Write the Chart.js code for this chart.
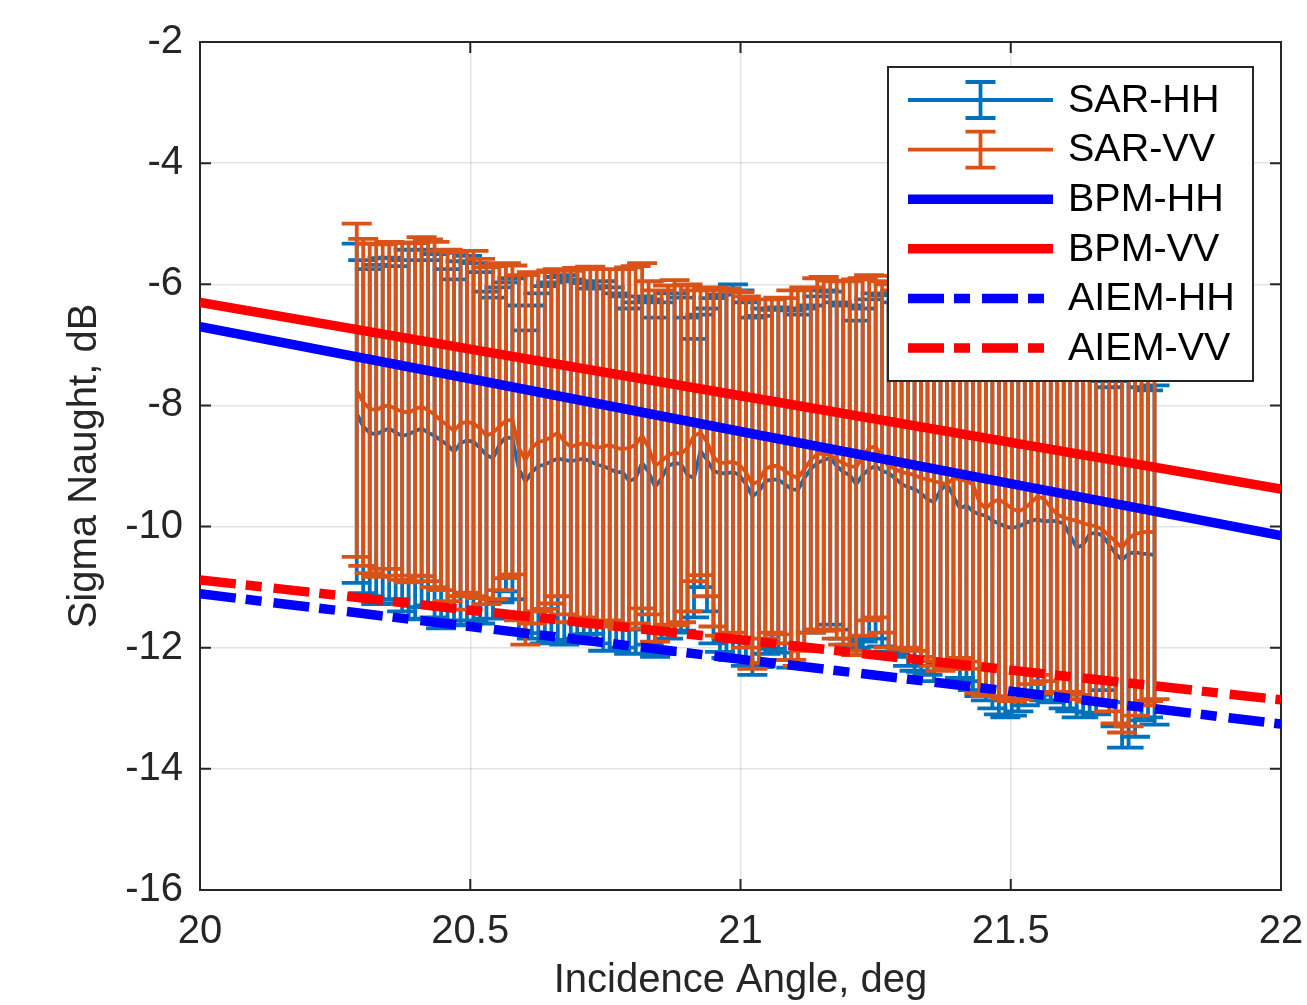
<!DOCTYPE html>
<html>
<head>
<meta charset="utf-8">
<title>Sigma Naught vs Incidence Angle</title>
<script src="https://cdn.jsdelivr.net/npm/chart.js@4.4.0/dist/chart.umd.min.js"></script>
<style>
  html, body { margin: 0; padding: 0; background: #fff; }
  #wrap { width: 1307px; height: 1005px; position: relative; }
</style>
</head>
<body>
<div id="wrap"><canvas id="chart"></canvas></div>
<script>
"use strict";

// SAR incidence angles (deg)
const angles = [
  20.290, 20.302, 20.314, 20.326, 20.338, 20.350, 20.362, 20.374, 20.386, 20.398,
  20.410, 20.422, 20.434, 20.446, 20.458, 20.470, 20.482, 20.494, 20.506, 20.518,
  20.530, 20.542, 20.554, 20.566, 20.578, 20.590, 20.602, 20.614, 20.626, 20.638,
  20.650, 20.662, 20.674, 20.686, 20.698, 20.710, 20.722, 20.734, 20.746, 20.758,
  20.770, 20.782, 20.794, 20.806, 20.818, 20.830, 20.842, 20.854, 20.866, 20.878,
  20.890, 20.902, 20.914, 20.926, 20.938, 20.950, 20.962, 20.974, 20.986, 20.998,
  21.010, 21.022, 21.034, 21.046, 21.058, 21.070, 21.082, 21.094, 21.106, 21.118,
  21.130, 21.142, 21.154, 21.166, 21.178, 21.190, 21.202, 21.214, 21.226, 21.238,
  21.250, 21.262, 21.274, 21.286, 21.298, 21.310, 21.322, 21.334, 21.346, 21.358,
  21.370, 21.382, 21.394, 21.406, 21.418, 21.430, 21.442, 21.454, 21.466, 21.478,
  21.490, 21.502, 21.514, 21.526, 21.538, 21.550, 21.562, 21.574, 21.586, 21.598,
  21.610, 21.622, 21.634, 21.646, 21.658, 21.670, 21.682, 21.694, 21.706, 21.718,
  21.730, 21.742, 21.754, 21.766
];

// SAR HH mean and std (dB)
const hhMean = [
  -8.13, -8.35, -8.45, -8.48, -8.42, -8.38, -8.45, -8.50, -8.48, -8.42,
  -8.38, -8.45, -8.50, -8.58, -8.65, -8.77, -8.62, -8.58, -8.60, -8.70,
  -8.82, -8.87, -8.65, -8.52, -8.55, -9.05, -9.26, -9.10, -9.00, -8.98,
  -8.92, -8.88, -8.90, -8.92, -8.90, -8.88, -8.92, -8.98, -9.00, -9.05,
  -9.10, -9.10, -9.25, -9.20, -8.95, -9.10, -9.35, -9.20, -9.00, -8.95,
  -8.97, -9.15, -9.20, -8.75, -8.90, -9.08, -9.12, -9.12, -9.10, -9.15,
  -9.30, -9.50, -9.42, -9.25, -9.22, -9.23, -9.30, -9.38, -9.40, -9.20,
  -9.05, -8.95, -8.90, -8.87, -9.00, -9.10, -9.15, -9.30, -9.15, -9.05,
  -9.00, -9.08, -9.12, -9.20, -9.30, -9.35, -9.38, -9.45, -9.55, -9.60,
  -9.40, -9.30, -9.50, -9.70, -9.65, -9.75, -9.80, -9.82, -9.90, -9.95,
  -10.00, -10.02, -10.00, -9.95, -9.90, -9.88, -9.92, -9.90, -9.92, -9.95,
  -10.15, -10.35, -10.30, -10.12, -10.10, -10.15, -10.30, -10.45, -10.55, -10.45,
  -10.42, -10.45, -10.45, -10.47
];
const hhErr = [
  2.80, 2.75, 2.70, 2.80, 2.85, 2.82, 2.75, 2.90, 3.05, 3.10,
  2.95, 2.85, 3.00, 3.10, 2.90, 2.85, 3.00, 3.05, 2.95, 2.90,
  2.70, 2.65, 2.60, 2.55, 2.65, 2.70, 2.50, 2.75, 2.85, 2.95,
  2.95, 3.00, 3.05, 3.00, 2.95, 2.90, 2.85, 2.95, 3.05, 3.00,
  2.95, 2.90, 2.85, 2.90, 2.75, 2.85, 2.80, 2.90, 2.85, 2.80,
  2.75, 2.60, 2.30, 2.25, 2.50, 2.85, 2.95, 3.05, 3.10, 3.05,
  3.00, 2.95, 2.90, 2.85, 2.80, 2.85, 2.90, 2.95, 2.90, 2.80,
  2.70, 2.75, 2.80, 2.75, 2.70, 2.75, 2.80, 2.70, 2.75, 2.80,
  2.85, 2.90, 2.95, 2.90, 2.85, 2.95, 3.00, 2.95, 2.90, 2.95,
  2.85, 2.90, 2.85, 2.80, 2.90, 2.95, 3.00, 3.05, 3.10, 3.15,
  3.15, 3.10, 3.05, 3.00, 2.95, 2.90, 2.95, 3.00, 2.95, 3.05,
  2.90, 2.80, 2.85, 2.95, 3.00, 2.55, 2.60, 2.85, 3.10, 3.20,
  3.05, 2.75, 2.70, 2.80
];

// SAR VV mean and std (dB)
const vvMean = [
  -7.75, -7.95, -8.05, -8.08, -8.02, -8.00, -8.06, -8.10, -8.12, -8.06,
  -8.02, -8.08, -8.15, -8.25, -8.33, -8.42, -8.30, -8.27, -8.30, -8.38,
  -8.50, -8.45, -8.35, -8.25, -8.24, -8.70, -8.90, -8.70, -8.60, -8.58,
  -8.52, -8.45, -8.60, -8.68, -8.65, -8.62, -8.66, -8.70, -8.68, -8.65,
  -8.70, -8.72, -8.70, -8.65, -8.50, -8.70, -9.00, -8.92, -8.82, -8.78,
  -8.80, -8.70, -8.50, -8.45, -8.60, -8.85, -8.95, -8.95, -8.93, -8.98,
  -9.10, -9.30, -9.25, -9.05, -9.00, -9.00, -9.08, -9.15, -9.20, -9.05,
  -8.90, -8.80, -8.80, -8.82, -8.90, -8.95, -9.00, -9.02, -8.85, -8.70,
  -8.68, -8.85, -9.00, -9.05, -9.10, -9.12, -9.15, -9.20, -9.22, -9.25,
  -9.28, -9.30, -9.20, -9.22, -9.25, -9.30, -9.60, -9.70, -9.60, -9.55,
  -9.62, -9.70, -9.75, -9.70, -9.60, -9.50, -9.55, -9.68, -9.80, -9.85,
  -9.88, -9.90, -9.95, -9.97, -10.00, -10.05, -10.15, -10.25, -10.35, -10.20,
  -10.12, -10.10, -10.08, -10.10
];
const vvErr = [
  2.75, 2.70, 2.72, 2.75, 2.68, 2.70, 2.75, 2.78, 2.80, 2.75,
  2.80, 2.82, 2.85, 2.80, 2.90, 2.95, 2.85, 2.82, 2.85, 2.80,
  2.78, 2.75, 2.70, 2.60, 2.55, 2.85, 3.05, 2.90, 2.80, 2.78,
  2.75, 2.70, 2.85, 2.90, 2.92, 2.88, 2.95, 2.95, 2.93, 2.90,
  2.95, 2.97, 2.98, 2.95, 2.85, 2.75, 2.90, 2.82, 2.80, 2.85,
  2.78, 2.70, 2.40, 2.35, 2.55, 2.80, 2.85, 2.88, 2.82, 2.85,
  2.90, 3.05, 3.00, 2.80, 2.75, 2.78, 2.85, 3.05, 3.10, 3.00,
  2.85, 2.90, 2.92, 2.88, 2.95, 3.00, 3.05, 3.10, 2.95, 2.85,
  2.82, 2.90, 3.00, 2.95, 2.92, 2.88, 2.90, 2.95, 3.00, 3.05,
  3.10, 3.05, 3.00, 2.95, 2.98, 3.05, 3.15, 3.10, 3.20, 3.25,
  3.22, 3.18, 3.10, 3.05, 3.00, 2.95, 3.00, 3.05, 2.95, 2.90,
  2.85, 2.88, 2.90, 2.92, 2.88, 2.85, 2.90, 3.00, 3.05, 3.10,
  3.00, 2.85, 2.80, 2.75
];

// model curves
const modelAngles = [20, 20.5, 21, 21.5, 22];
const bpmHH = [-6.70, -7.56, -8.43, -9.29, -10.15];
const bpmVV = [-6.30, -7.07, -7.84, -8.61, -9.38];
const aiemHH = [-11.11, -11.65, -12.19, -12.72, -13.26];
const aiemVV = [-10.88, -11.38, -11.87, -12.37, -12.86];

const xTicks = [20, 20.5, 21, 21.5, 22];
const yTicks = [-16, -14, -12, -10, -8, -6, -4, -2];

const AXIS_COLOR = "#262626";
const FONT = "'Liberation Sans', Arial, Helvetica, sans-serif";
const DASH_DOT = [36, 10, 16, 12];
const CAP_HALF = 15;

Chart.defaults.font.family = FONT;

function pts(xs, ys) {
  return xs.map((x, i) => ({ x: x, y: ys[i] }));
}

// vertical error bars with caps, drawn right under each SAR line
const errorBarPlugin = {
  id: "errorBars",
  beforeDatasetDraw(chart, args) {
    const ds = chart.data.datasets[args.index];
    if (!ds.errorBars) return;
    const { ctx, chartArea, scales } = chart;
    const x = scales.x, y = scales.y;
    ctx.save();
    ctx.beginPath();
    ctx.rect(chartArea.left, chartArea.top, chartArea.width, chartArea.height);
    ctx.clip();
    ctx.strokeStyle = ds.borderColor;
    ctx.lineWidth = ds.borderWidth;
    ctx.lineCap = "butt";
    ctx.beginPath();
    ds.data.forEach((p, i) => {
      const e = ds.errorBars[i];
      const px = x.getPixelForValue(p.x);
      const top = y.getPixelForValue(p.y + e);
      const bot = y.getPixelForValue(p.y - e);
      ctx.moveTo(px, top); ctx.lineTo(px, bot);
      ctx.moveTo(px - CAP_HALF, top); ctx.lineTo(px + CAP_HALF, top);
      ctx.moveTo(px - CAP_HALF, bot); ctx.lineTo(px + CAP_HALF, bot);
    });
    ctx.stroke();
    ctx.restore();
  }
};

// box around the axes with inward tick marks on all four sides
const axesBoxPlugin = {
  id: "axesBox",
  beforeDatasetsDraw(chart) {
    const { ctx, chartArea: a, scales } = chart;
    const tl = 11;
    ctx.save();
    ctx.strokeStyle = AXIS_COLOR;
    ctx.lineWidth = 2;
    ctx.beginPath();
    xTicks.forEach((v) => {
      const px = scales.x.getPixelForValue(v);
      ctx.moveTo(px, a.bottom); ctx.lineTo(px, a.bottom - tl);
      ctx.moveTo(px, a.top); ctx.lineTo(px, a.top + tl);
    });
    yTicks.forEach((v) => {
      const py = scales.y.getPixelForValue(v);
      ctx.moveTo(a.left, py); ctx.lineTo(a.left + tl, py);
      ctx.moveTo(a.right, py); ctx.lineTo(a.right - tl, py);
    });
    ctx.stroke();
    ctx.strokeRect(a.left, a.top, a.right - a.left, a.bottom - a.top);
    ctx.restore();
  }
};

// legend box in the upper right corner of the axes
const boxLegendPlugin = {
  id: "boxLegend",
  afterDraw(chart) {
    const { ctx, chartArea: a } = chart;
    const w = 365, h = 314;
    const left = a.right - 28 - w;
    const top = a.top + 25;
    ctx.save();
    ctx.fillStyle = "#fff";
    ctx.fillRect(left, top, w, h);
    ctx.strokeStyle = AXIS_COLOR;
    ctx.lineWidth = 2;
    ctx.strokeRect(left, top, w, h);

    chart.data.datasets.forEach((ds, i) => {
      const cy = top + 33 + i * 49.6;
      const x0 = left + 20, x1 = left + 165;
      ctx.strokeStyle = ds.borderColor;
      ctx.lineWidth = ds.borderWidth;
      ctx.lineCap = "butt";
      ctx.setLineDash(ds.borderDash || []);
      ctx.beginPath();
      ctx.moveTo(x0, cy); ctx.lineTo(x1, cy);
      ctx.stroke();
      ctx.setLineDash([]);
      if (ds.errorBars) {
        const cx = (x0 + x1) / 2;
        ctx.beginPath();
        ctx.moveTo(cx, cy - 18); ctx.lineTo(cx, cy + 18);
        ctx.moveTo(cx - CAP_HALF, cy - 18); ctx.lineTo(cx + CAP_HALF, cy - 18);
        ctx.moveTo(cx - CAP_HALF, cy + 18); ctx.lineTo(cx + CAP_HALF, cy + 18);
        ctx.stroke();
      }
      ctx.fillStyle = "#000";
      ctx.font = "39.5px " + FONT;
      ctx.textAlign = "left";
      ctx.textBaseline = "middle";
      ctx.fillText(ds.label, left + 180, cy + 1);
    });
    ctx.restore();
  }
};

const lineDefaults = {
  pointRadius: 0,
  pointHoverRadius: 0,
  tension: 0,
  fill: false,
  borderCapStyle: "butt",
  clip: 0
};

const datasets = [
  Object.assign({}, lineDefaults, {
    label: "SAR-HH", data: pts(angles, hhMean), errorBars: hhErr,
    borderColor: "#0072BD", borderWidth: 3.8, order: 6
  }),
  Object.assign({}, lineDefaults, {
    label: "SAR-VV", data: pts(angles, vvMean), errorBars: vvErr,
    borderColor: "#D95319", borderWidth: 3.8, order: 5
  }),
  Object.assign({}, lineDefaults, {
    label: "BPM-HH", data: pts(modelAngles, bpmHH),
    borderColor: "#0000FF", borderWidth: 9.5, order: 4
  }),
  Object.assign({}, lineDefaults, {
    label: "BPM-VV", data: pts(modelAngles, bpmVV),
    borderColor: "#FF0000", borderWidth: 9.5, order: 3
  }),
  Object.assign({}, lineDefaults, {
    label: "AIEM-HH", data: pts(modelAngles, aiemHH),
    borderColor: "#0000FF", borderWidth: 9.5, borderDash: DASH_DOT, order: 2
  }),
  Object.assign({}, lineDefaults, {
    label: "AIEM-VV", data: pts(modelAngles, aiemVV),
    borderColor: "#FF0000", borderWidth: 9.5, borderDash: DASH_DOT, order: 1
  })
];

const chart = new Chart(document.getElementById("chart"), {
  type: "line",
  data: { datasets: datasets },
  plugins: [errorBarPlugin, axesBoxPlugin, boxLegendPlugin],
  options: {
    responsive: true,
    maintainAspectRatio: false,
    animation: false,
    events: [],
    layout: { padding: { left: 0, right: 26, top: 42, bottom: 0 } },
    plugins: {
      legend: { display: false },
      tooltip: { enabled: false }
    },
    scales: {
      x: {
        type: "linear",
        min: 20,
        max: 22,
        afterBuildTicks: (scale) => { scale.ticks = xTicks.map((v) => ({ value: v })); },
        afterFit: (scale) => {
          scale.height = 115;
          scale.paddingLeft = 0;
          scale.paddingRight = 0;
        },
        ticks: {
          color: AXIS_COLOR,
          font: { size: 40 },
          padding: 18,
          maxRotation: 0,
          callback: (v) => String(v)
        },
        grid: { color: "rgba(38,38,38,0.13)", lineWidth: 1.5, drawTicks: false },
        border: { display: false },
        title: {
          display: true,
          text: "Incidence Angle, deg",
          color: AXIS_COLOR,
          font: { size: 40 },
          padding: { top: 0, bottom: 0 }
        }
      },
      y: {
        type: "linear",
        min: -16,
        max: -2,
        afterBuildTicks: (scale) => { scale.ticks = yTicks.map((v) => ({ value: v })); },
        afterFit: (scale) => { scale.width = 200; },
        ticks: {
          color: AXIS_COLOR,
          font: { size: 40 },
          padding: 17,
          callback: (v) => String(v)
        },
        grid: { color: "rgba(38,38,38,0.13)", lineWidth: 1.5, drawTicks: false },
        border: { display: false },
        title: {
          display: true,
          text: "Sigma Naught, dB",
          color: AXIS_COLOR,
          font: { size: 40 },
          padding: { top: 61, bottom: 0 }
        }
      }
    }
  }
});
</script>
</body>
</html>
